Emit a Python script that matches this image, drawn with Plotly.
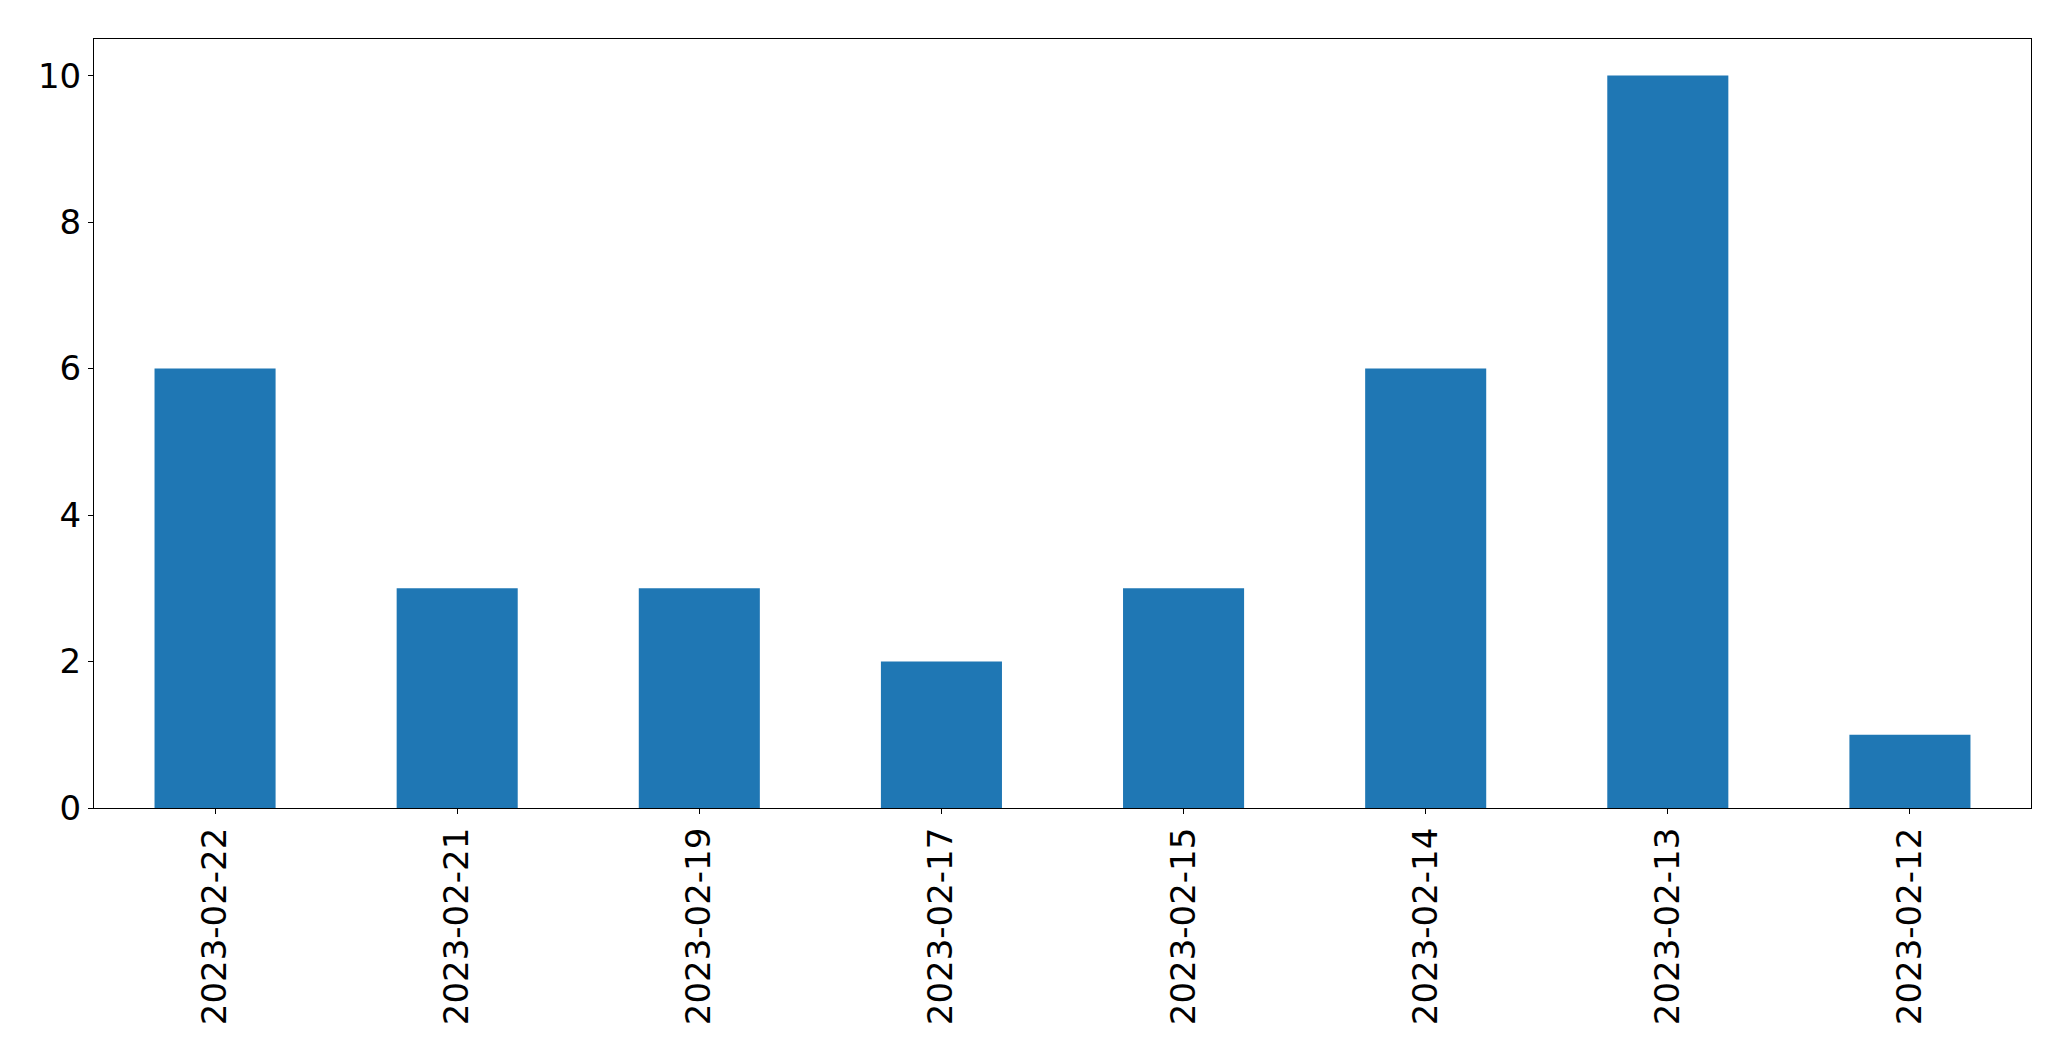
import plotly.graph_objects as go

dates = ["2023-02-22", "2023-02-21", "2023-02-19", "2023-02-17",
         "2023-02-15", "2023-02-14", "2023-02-13", "2023-02-12"]
counts = [6, 3, 3, 2, 3, 6, 10, 1]

fig = go.Figure(go.Bar(x=dates, y=counts, marker_color="#1f77b4",
                       marker_line_width=0))

fig.update_layout(
    width=2071, height=1061,
    margin=dict(l=86, r=48, t=31, b=261),
    paper_bgcolor="white", plot_bgcolor="white",
    bargap=0.5, showlegend=False,
    font=dict(family="DejaVu Sans", size=34, color="black"),
)
fig.update_xaxes(type="category", range=[-0.5, 7.5], tickangle=-90,
                 showline=True, linecolor="black", linewidth=1.1, mirror=True,
                 ticks="outside", ticklen=5, tickwidth=1.1, tickcolor="black",
                 showgrid=False, zeroline=False)
fig.update_yaxes(range=[0, 10.5], tickvals=[0, 2, 4, 6, 8, 10],
                 showline=True, linecolor="black", linewidth=1.1, mirror=True,
                 ticks="outside", ticklen=5, tickwidth=1.1, tickcolor="black",
                 showgrid=False, zeroline=False)

fig.write_html("out.html")
